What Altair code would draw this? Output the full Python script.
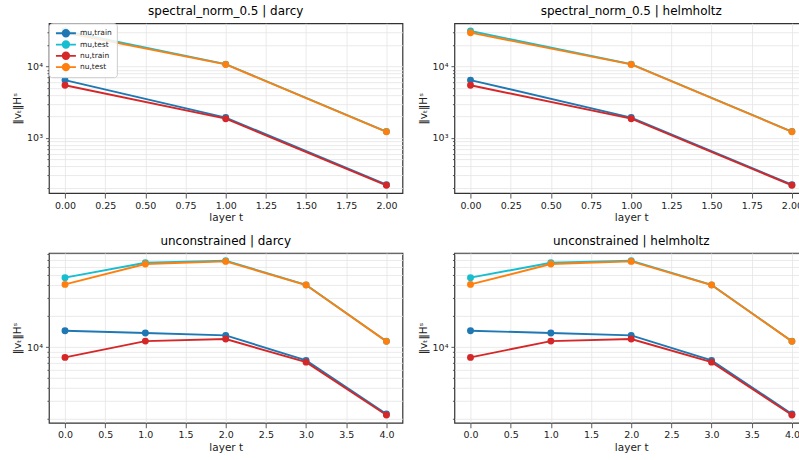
import altair as alt
import pandas as pd

series = ["mu,train", "mu,test", "nu,train", "nu,test"]
colors = ["#1f77b4", "#17becf", "#d62728", "#ff7f0e"]

# spectral_norm_0.5 (layers 0..2)
t_top = [0, 1, 2]
sn_darcy_mu_train = [6460, 1930, 221]
sn_darcy_mu_test = [31500, 10800, 1230]
sn_darcy_nu_train = [5460, 1860, 217]
sn_darcy_nu_test = [29800, 10700, 1220]
sn_helm_mu_train = [6460, 1930, 221]
sn_helm_mu_test = [31500, 10800, 1230]
sn_helm_nu_train = [5460, 1860, 217]
sn_helm_nu_test = [29800, 10700, 1220]

# unconstrained (layers 0..4)
t_bot = [0, 1, 2, 3, 4]
un_darcy_mu_train = [14400, 13700, 13000, 7430, 2240]
un_darcy_mu_test = [47200, 65900, 69000, 40200, 11400]
un_darcy_nu_train = [7940, 11430, 11960, 7140, 2190]
un_darcy_nu_test = [40600, 64000, 67900, 40000, 11360]
un_helm_mu_train = [14400, 13700, 13000, 7430, 2240]
un_helm_mu_test = [47200, 65900, 69000, 40200, 11400]
un_helm_nu_train = [7940, 11430, 11960, 7140, 2190]
un_helm_nu_test = [40600, 64000, 67900, 40000, 11360]

x_ticks_top = [0, 0.25, 0.5, 0.75, 1.0, 1.25, 1.5, 1.75, 2.0]
x_ticks_bot = [0, 0.5, 1.0, 1.5, 2.0, 2.5, 3.0, 3.5, 4.0]
y_ticks_top = [200, 300, 400, 500, 600, 700, 800, 900, 1000, 2000, 3000, 4000,
               5000, 6000, 7000, 8000, 9000, 10000, 20000, 30000]
y_ticks_bot = [2000, 3000, 4000, 5000, 6000, 7000, 8000, 9000, 10000, 20000,
               30000, 40000, 50000, 60000, 70000, 80000]

FONT = "DejaVu Sans"
W = 354
H = 170

sym_path = ("M-2,0H2M0.66,0A0.66,0.66,0,1,1,-0.66,0"
            "A0.66,0.66,0,1,1,0.66,0Z")


def panel(title, t, mu_tr, mu_te, nu_tr, nu_te, xdom, xticks, xfmt, ydom, yticks, show_legend):
    rows = []
    for name, vals in zip(series, [mu_tr, mu_te, nu_tr, nu_te]):
        for ti, v in zip(t, vals):
            rows.append({"t": ti, "v": v, "series": name})
    df = pd.DataFrame(rows)

    if show_legend:
        leg = alt.Legend(title=None, orient="top-left", offset=0, padding=5,
                         symbolType=sym_path, symbolSize=100, symbolStrokeWidth=1.8,
                         symbolOffset=6, labelOffset=8, labelFontSize=7.5,
                         labelFont=FONT, labelColor="#222", rowPadding=1.3,
                         clipHeight=10,
                         fillColor="rgba(255,255,255,0.85)", strokeColor="#cccccc",
                         cornerRadius=3)
    else:
        leg = None

    x = alt.X("t:Q", scale=alt.Scale(domain=xdom, nice=False, zero=False),
              axis=alt.Axis(values=xticks, format=xfmt, title="layer t", labelPadding=2,
                            titlePadding=3))
    y = alt.Y("v:Q", scale=alt.Scale(type="log", domain=ydom, nice=False),
              axis=alt.Axis(values=yticks, title="‖vₜ‖Hˢ",
                            labelExpr="datum.value == 1000 ? '10³' : datum.value == 10000 ? '10⁴' : ''",
                            tickSize={"condition": {"test": "datum.value == 1000 || datum.value == 10000",
                                                    "value": 3.5}, "value": 2}))
    scale = alt.Scale(domain=series, range=colors)
    lines = alt.Chart(df).mark_line(strokeWidth=1.9, clip=True).encode(
        x=x, y=y,
        stroke=alt.Stroke("series:N", scale=scale, legend=leg, sort=series),
    )
    pts = alt.Chart(df).mark_point(filled=True, size=48, opacity=1, clip=True).encode(
        x=x, y=y,
        fill=alt.Fill("series:N", scale=scale, legend=leg, sort=series),
    )
    return alt.layer(lines, pts).properties(
        width=W, height=H,
        title=alt.TitleParams(title, fontSize=12, font=FONT, fontWeight="normal", color="#000"),
    )


p1 = panel("spectral_norm_0.5 | darcy", t_top, sn_darcy_mu_train, sn_darcy_mu_test,
           sn_darcy_nu_train, sn_darcy_nu_test, [-0.1, 2.1], x_ticks_top, ".2f",
           [169, 40400], y_ticks_top, True)
p2 = panel("spectral_norm_0.5 | helmholtz", t_top, sn_helm_mu_train, sn_helm_mu_test,
           sn_helm_nu_train, sn_helm_nu_test, [-0.1, 2.1], x_ticks_top, ".2f",
           [169, 40400], y_ticks_top, False)
p3 = panel("unconstrained | darcy", t_bot, un_darcy_mu_train, un_darcy_mu_test,
           un_darcy_nu_train, un_darcy_nu_test, [-0.2, 4.2], x_ticks_bot, ".1f",
           [1841, 82000], y_ticks_bot, False)
p4 = panel("unconstrained | helmholtz", t_bot, un_helm_mu_train, un_helm_mu_test,
           un_helm_nu_train, un_helm_nu_test, [-0.2, 4.2], x_ticks_bot, ".1f",
           [1841, 82000], y_ticks_bot, False)

chart = alt.concat(p1, p2, p3, p4, columns=2, spacing={"row": 60, "column": 52},
                   bounds="flush").resolve_scale(
    stroke="independent", fill="independent", x="independent", y="independent"
).resolve_legend(stroke="independent", fill="independent").properties(
    padding={"left": 12, "top": 3, "right": -10, "bottom": 0},
    background="white",
).configure_view(
    stroke="#333333", strokeWidth=1.2
).configure_axis(
    labelFont=FONT, labelFontSize=9.5, labelColor="#222",
    titleFont=FONT, titleFontSize=10.5, titleFontWeight="normal", titleColor="#222",
    domain=False, tickColor="#333", tickWidth=0.8,
    gridColor="#e4e4e4", gridWidth=0.8, labelPadding=3, titlePadding=4,
).configure_title(offset=5)

chart.save("out.html", embed_options={"renderer": "svg", "actions": False})
